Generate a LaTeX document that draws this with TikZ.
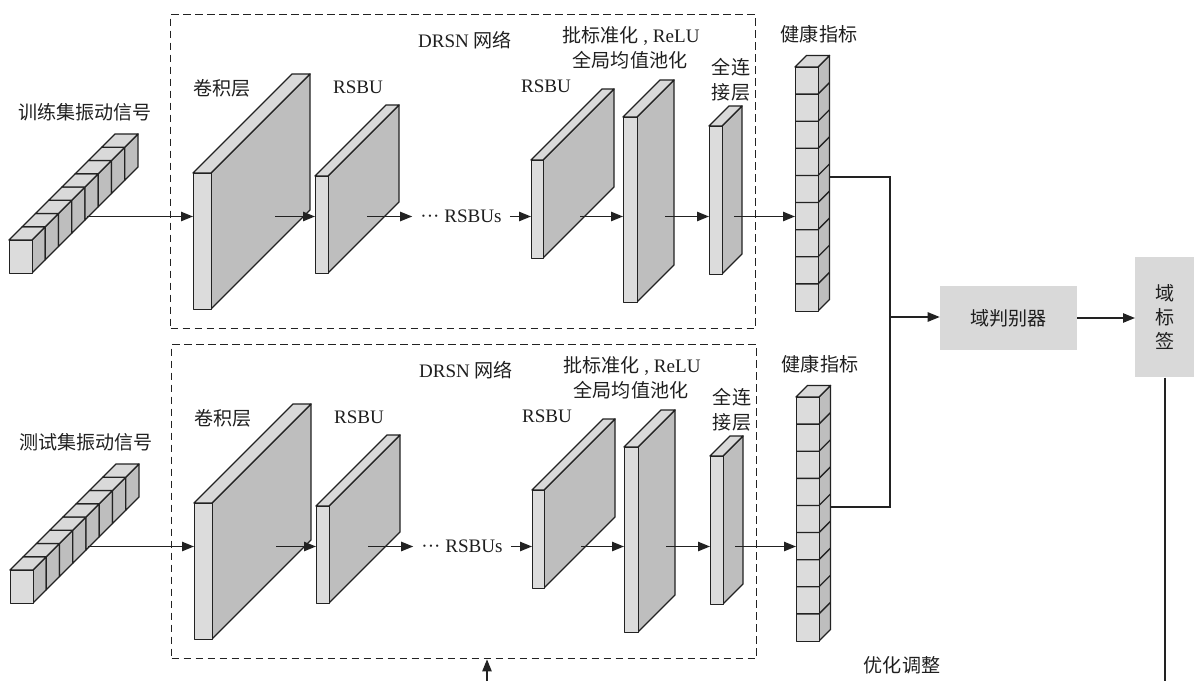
\documentclass[tikz,border=0pt]{standalone}
\usepackage{fontspec}
\setmainfont{Liberation Serif}
\newfontfamily\cjk{Noto Sans CJK SC}
\usetikzlibrary{arrows.meta,calc}
\definecolor{frontc}{HTML}{DCDCDC}
\definecolor{sidec}{HTML}{BEBEBE}
\definecolor{topc}{HTML}{D9D9D9}
\definecolor{linec}{HTML}{222222}
\definecolor{boxc}{HTML}{D9D9D9}
\tikzset{
 face/.style={draw=linec,line width=1pt,line join=round},
 arr/.style={draw=linec,line width=1.1pt,-{Triangle[length=9pt,width=7pt]}},
 conn/.style={draw=linec,line width=1.1pt},
 dbox/.style={draw=linec,line width=1pt,dash pattern=on 5.5pt off 3.5pt,inner sep=0},
 lbl/.style={font=\fontsize{14.3}{18}\selectfont,text=black!88,inner sep=0},
}
% slab: name, x1, y1, x2, y2, depth
\newcommand\slab[6]{%
  \filldraw[face,fill=sidec] (#4,#3) -- ++(#6,-#6) -- ++(0,{#5-#3}) -- (#4,#5) -- cycle;
  \filldraw[face,fill=topc] (#2,#3) -- ++(#6,-#6) -- ++({#4-#2},0) -- (#4,#3) -- cycle;
  \node[face,fill=frontc,inner sep=0,anchor=north west,
        minimum width={(#4-#2)*0.75pt},minimum height={(#5-#3)*0.75pt}] (#1) at (#2,#3) {};
}
% signal bar of 8 cells: name, x1, y1, x2, y2, depth
\newcommand\sigbar[6]{%
  \pgfmathsetmacro\sbs{#6/8}
  \foreach \i in {0,...,7}{
    \filldraw[face,fill=sidec] ({#4+\i*\sbs},{#3-\i*\sbs}) -- ++(\sbs,-\sbs) -- ++(0,{#5-#3}) -- ++(-\sbs,\sbs) -- cycle;
    \filldraw[face,fill=topc] ({#2+\i*\sbs},{#3-\i*\sbs}) -- ++(\sbs,-\sbs) -- ++({#4-#2},0) -- ++(-\sbs,\sbs) -- cycle;
  }
  \node[face,fill=frontc,inner sep=0,anchor=north west,
        minimum width={(#4-#2)*0.75pt},minimum height={(#5-#3)*0.75pt}] (#1) at (#2,#3) {};
}
% health column of 9 cells
\newcommand\hcol[6]{%
  \slab{#1}{#2}{#3}{#4}{#5}{#6}
  \foreach \i in {1,...,8}{
    \draw[face] (#2,{#3+\i*(#5-#3)/9}) -- (#4,{#3+\i*(#5-#3)/9}) -- ++(#6,-#6);
  }
}
\newcommand\drsnnet[2]{%
  \node[dbox,anchor=north west,minimum width=438.75pt,minimum height=235.5pt] (#1-box) at (170,14) {};
  \sigbar{#1-sig}{9}{240}{32}{273}{106}
  \coordinate (#1-in) at (87,216.5);
  \slab{#1-conv}{193}{173}{211}{309}{99}
  \coordinate (#1-a1) at (275,216.5);
  \slab{#1-rsbu1}{315}{176}{328}{273}{71}
  \coordinate (#1-a2) at (367,216.5);
  \node[lbl,inner xsep=6pt] (#1-dots) at (461,216.5) {··· RSBUs};
  \slab{#1-rsbu2}{531}{160}{543}{258}{71}
  \coordinate (#1-a4) at (580,216.5);
  \slab{#1-bn}{623}{117}{637}{302}{37}
  \coordinate (#1-a5) at (665,216.5);
  \slab{#1-fc}{709}{126}{722}{274}{20}
  \coordinate (#1-a6) at (734,216.5);
  \hcol{#1-hi}{795}{67}{818}{311}{11.5}
  \coordinate (#1-hout) at (829.5,177);
  \draw[arr] (#1-in) -- (#1-in -| #1-conv.west);
  \draw[arr] (#1-a1) -- (#1-a1 -| #1-rsbu1.west);
  \draw[arr] (#1-a2) -- (#1-dots.west);
  \draw[arr] (#1-dots.east) -- (#1-dots.east -| #1-rsbu2.west);
  \draw[arr] (#1-a4) -- (#1-a4 -| #1-bn.west);
  \draw[arr] (#1-a5) -- (#1-a5 -| #1-fc.west);
  \draw[arr] (#1-a6) -- (#1-a6 -| #1-hi.west);
  \node[lbl] (#1-sigl) at (85,112) {\cjk #2};
  \node[lbl] (#1-net) at (465,40) {DRSN {\cjk 网络}};
  \node[lbl] (#1-bnl) at (631,36) {{\cjk 批标准化} , ReLU};
  \node[lbl] (#1-gap) at (630,60) {\cjk 全局均值池化};
  \node[lbl] (#1-convl) at (222,88) {\cjk 卷积层};
  \node[lbl] (#1-r1l) at (358,87) {RSBU};
  \node[lbl] (#1-r2l) at (546,86) {RSBU};
  \node[lbl,align=center,font=\fontsize{14.3}{18.75}\selectfont] (#1-fcl) at (731,79.5) {\cjk 全连\\\cjk 接层};
  \node[lbl] (#1-hil) at (819,34) {\cjk 健康指标};
}
\begin{document}
\begin{tikzpicture}[x=0.75pt,y=-0.75pt]
\useasboundingbox (0,0) rectangle (1194,681);
\begin{scope}
  \drsnnet{t}{训练集振动信号}
\end{scope}
\begin{scope}[shift={(1,330)}]
  \drsnnet{b}{测试集振动信号}
\end{scope}
\coordinate (j) at (890,317);
\draw[conn] (t-hout) -| (j);
\draw[conn] (b-hout) -| (j);
\node[lbl,fill=boxc,minimum width=102.75pt,minimum height=48pt] (disc) at (1008.5,318) {\cjk 域判别器};
\draw[arr] (j) -- (j -| disc.west);
\node[lbl,fill=boxc,anchor=north west,minimum width=44.25pt,minimum height=90pt,align=center] (lab) at (1135,257) {\cjk 域\\\cjk 标\\\cjk 签};
\draw[arr] (disc.east) -- (disc.east -| lab.west);
\coordinate (lend) at (1165,681);
\draw[conn] (lab.south -| lend) -- (lend);
\coordinate (fb) at (487,681);
\draw[arr] (fb) -- (fb |- b-box.south);
\node[lbl] (opt) at (902,665) {\cjk 优化调整};
\end{tikzpicture}
\end{document}
